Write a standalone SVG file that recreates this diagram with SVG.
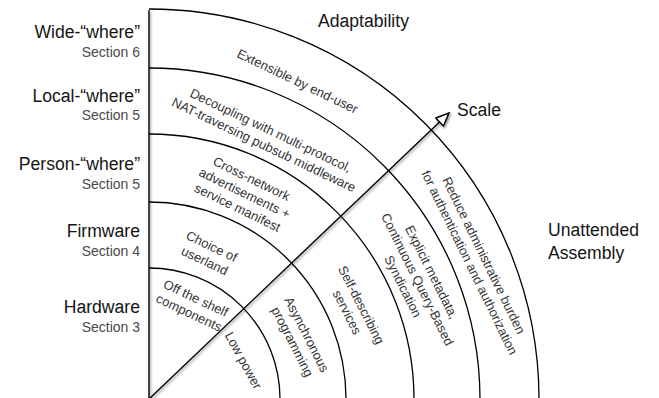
<svg xmlns="http://www.w3.org/2000/svg" width="659" height="398" viewBox="0 0 659 398">
  <defs>
    <filter id="sh" x="-10%" y="-10%" width="130%" height="130%">
      <feDropShadow dx="1.2" dy="1.6" stdDeviation="0.9" flood-color="#000" flood-opacity="0.45"/>
    </filter>
    <marker id="ah" viewBox="0 0 16 13" refX="14.5" refY="6.5" markerWidth="16" markerHeight="13" markerUnits="userSpaceOnUse" orient="auto">
      <path d="M1.5,1 L14.5,6.5 L1.5,12 Z" fill="#fff" stroke="#000" stroke-width="1.4" stroke-linejoin="miter"/>
    </marker>
  </defs>
  <style>
    .arc { fill: none; stroke: #000; stroke-width: 1.3; }
    .ax { fill: none; stroke: #000; stroke-width: 1.4; }
    .lab { font-family: "Liberation Sans", Arial, sans-serif; font-size: 17.6px; fill: #151515; }
    .sec { font-family: "Liberation Sans", Arial, sans-serif; font-size: 14px; fill: #4a4a4a; }
    .band { font-family: "Liberation Sans", Arial, sans-serif; font-size: 13px; fill: #333; text-anchor: middle; }
  </style>
  <rect width="659" height="398" fill="#fff"/>

  <g id="rings">
    <path class="arc" d="M149 268 A131 131 0 0 1 280 399"/>
    <path class="arc" d="M149 202 A197 197 0 0 1 346 399"/>
    <path class="arc" d="M149 134 A265 265 0 0 1 414 399"/>
    <path class="arc" d="M149 68 A331 331 0 0 1 480 399"/>
    <path class="arc" d="M149 9 A390 390 0 0 1 539 399"/>
  </g>

  <g id="connectors" filter="url(#sh)">
    <line class="ax" x1="149" y1="10" x2="149" y2="400"/>
    <line class="ax" x1="149" y1="399" x2="449" y2="113" marker-end="url(#ah)"/>
  </g>

  <g id="axis-labels">
    <text class="lab" x="318" y="27">Adaptability</text>
    <text class="lab" x="457" y="116">Scale</text>
    <text class="lab" x="548" y="236">Unattended</text>
    <text class="lab" x="548" y="259">Assembly</text>
  </g>

  <g id="layer-labels" text-anchor="end">
    <g id="wide"><text class="lab" x="140" y="38">Wide-“where”</text><text class="sec" x="140" y="57">Section 6</text></g>
    <g id="local"><text class="lab" x="140" y="102">Local-“where”</text><text class="sec" x="140" y="120">Section 5</text></g>
    <g id="person"><text class="lab" x="140" y="170">Person-“where”</text><text class="sec" x="140" y="189">Section 5</text></g>
    <g id="firmware"><text class="lab" x="140" y="237">Firmware</text><text class="sec" x="140" y="256">Section 4</text></g>
    <g id="hardware"><text class="lab" x="140" y="313">Hardware</text><text class="sec" x="140" y="332">Section 3</text></g>
  </g>

  <g id="adaptability-items">
    <g id="extensible"><text class="band" transform="translate(297.3 81.7) rotate(25.6)"><tspan x="0" y="4">Extensible by end-user</tspan></text></g>
    <g id="decoupling"><text class="band" transform="translate(267 138) rotate(25.6)"><tspan x="0" y="-4">Decoupling with multi-protocol,</tspan><tspan x="0" y="12">NAT-traversing pubsub middleware</tspan></text></g>
    <g id="crossnet"><text class="band" transform="translate(244.3 193.5) rotate(26)"><tspan x="0" y="-12">Cross-network</tspan><tspan x="0" y="4">advertisements +</tspan><tspan x="0" y="20">service manifest</tspan></text></g>
    <g id="choice"><text class="band" transform="translate(208 254) rotate(25.5)"><tspan x="0" y="-4">Choice of</tspan><tspan x="0" y="12">userland</tspan></text></g>
    <g id="offshelf"><text class="band" transform="translate(192.2 305.8) rotate(25.3)"><tspan x="0" y="-4">Off the shelf</tspan><tspan x="0" y="12">components</tspan></text></g>
  </g>

  <g id="assembly-items">
    <g id="lowpower"><text class="band" transform="translate(243 360.8) rotate(61.5)"><tspan x="0" y="4">Low power</tspan></text></g>
    <g id="async"><text class="band" transform="translate(299.2 338.3) rotate(63)"><tspan x="0" y="-4">Asynchronous</tspan><tspan x="0" y="12">programming</tspan></text></g>
    <g id="selfdesc"><text class="band" transform="translate(353.8 308.8) rotate(63)"><tspan x="0" y="-4">Self-describing</tspan><tspan x="0" y="12">services</tspan></text></g>
    <g id="explicit"><text class="band" transform="translate(417 279.5) rotate(63.5)"><tspan x="0" y="-12">Explicit metadata,</tspan><tspan x="0" y="4">Continuous Query-Based</tspan><tspan x="0" y="20">Syndication</tspan></text></g>
    <g id="reduce"><text class="band" transform="translate(476.2 259.2) rotate(64)"><tspan x="0" y="-4">Reduce administrative burden</tspan><tspan x="0" y="12">for authentication and authorization</tspan></text></g>
  </g>
</svg>
